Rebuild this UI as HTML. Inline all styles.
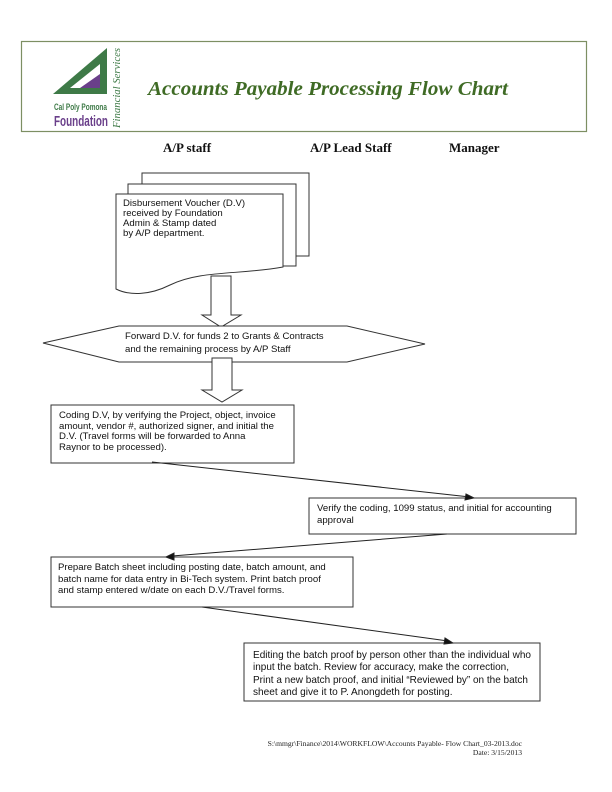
<!DOCTYPE html>
<html><head><meta charset="utf-8"><style>
body{margin:0;background:#fff;}
svg{display:block;}
.t{font-family:"Liberation Sans",Arial,sans-serif;font-size:9.6px;fill:#111;}
.e{font-family:"Liberation Sans",Arial,sans-serif;font-size:10.1px;fill:#111;}
.h{font-family:"Liberation Serif",serif;font-weight:bold;font-size:13px;fill:#111;}
.f{font-family:"Liberation Serif",serif;font-size:7.6px;fill:#222;}
</style></head><body>
<svg width="612" height="792" viewBox="0 0 612 792" xmlns="http://www.w3.org/2000/svg">
<rect x="21.5" y="41.5" width="565" height="90" fill="#fff" stroke="#7d8f63" stroke-width="1.2"/>
<polygon points="107,48 107,94 53,94" fill="#3e7a47"/>
<polygon points="100,64 100,88 70,88" fill="#fff"/>
<polygon points="100,74 100,88 80,88" fill="#6a3f8a"/>
<text x="54" y="110" font-family="Liberation Sans, sans-serif" font-weight="bold" font-size="9" fill="#3e7a47" textLength="53" lengthAdjust="spacingAndGlyphs">Cal Poly Pomona</text>
<text x="54" y="126" font-family="Liberation Sans, sans-serif" font-weight="bold" font-size="15" fill="#6a3f8a" textLength="54" lengthAdjust="spacingAndGlyphs">Foundation</text>
<text transform="translate(120,128) rotate(-90)" font-family="Liberation Serif, serif" font-style="italic" font-size="11" fill="#3e7a47" textLength="80" lengthAdjust="spacingAndGlyphs">Financial Services</text>
<text x="148" y="95" font-family="Liberation Serif, serif" font-style="italic" font-weight="bold" font-size="20" fill="#3f6b25" textLength="360" lengthAdjust="spacingAndGlyphs">Accounts Payable Processing Flow Chart</text>
<text class="h" x="163" y="152">A/P staff</text>
<text class="h" x="310" y="152">A/P Lead Staff</text>
<text class="h" x="449" y="152">Manager</text>
<g fill="#fff" stroke="#333" stroke-width="1">
<polygon points="142,173 309,173 309,256 296,256 296,184 142,184"/>
<polygon points="128,184 296,184 296,266 283,266 283,194 128,194"/>
<path d="M116,194 L283,194 L283,267 C240,275 200,270 170,285 C150,295 130,296 116,289 Z"/>
<polygon points="211,276 231,276 231,315 241,315 221,327 202,315 211,315"/>
<polygon points="43,343 119,326 347,326 425,344 347,362 119,362"/>
<polygon points="212,358 232,358 232,390 242,390 222,402 202,390 212,390"/>
<rect x="51" y="405" width="243" height="58"/>
<rect x="309" y="498" width="267" height="36"/>
<rect x="51" y="557" width="302" height="50"/>
<rect x="244" y="643" width="296" height="58"/>
</g>
<g stroke="#222" stroke-width="1" fill="#111">
<line x1="152" y1="462" x2="470" y2="497"/><polygon points="474,498 466,494 465,500"/>
<line x1="447" y1="534" x2="172" y2="556"/><polygon points="166,557 174,553 174,560"/>
<line x1="202" y1="607" x2="448" y2="641"/><polygon points="453,643 445,638 444,644"/>
</g>
<text class="t" x="123" y="206">Disbursement Voucher (D.V)</text>
<text class="t" x="123" y="216">received by Foundation</text>
<text class="t" x="123" y="226">Admin &amp; Stamp dated</text>
<text class="t" x="123" y="236">by A/P department.</text>
<text class="t" x="125" y="339">Forward D.V. for funds 2 to Grants &amp; Contracts</text>
<text class="t" x="125" y="352">and the remaining process by A/P Staff</text>
<text class="t" x="59" y="418">Coding D.V, by verifying the Project, object, invoice</text>
<text class="t" x="59" y="429">amount, vendor #, authorized signer, and initial the</text>
<text class="t" x="59" y="439">D.V.  (Travel forms will be forwarded to Anna</text>
<text class="t" x="59" y="450">Raynor to be processed).</text>
<text class="t" x="317" y="511">Verify the coding, 1099 status, and initial for accounting</text>
<text class="t" x="317" y="523">approval</text>
<text class="t" x="58" y="570">Prepare Batch sheet including posting date, batch amount, and</text>
<text class="t" x="58" y="582">batch name for data entry in Bi-Tech system. Print batch proof</text>
<text class="t" x="58" y="593">and stamp entered w/date on each D.V./Travel forms.</text>
<text class="e" x="253" y="658" textLength="278" lengthAdjust="spacingAndGlyphs">Editing the batch proof by person other than the individual who</text>
<text class="e" x="253" y="670" textLength="256" lengthAdjust="spacingAndGlyphs">input the batch.  Review for accuracy, make the correction,</text>
<text class="e" x="253" y="683" textLength="275" lengthAdjust="spacingAndGlyphs">Print a new batch proof, and initial “Reviewed by” on the batch</text>
<text class="e" x="253" y="695">sheet and give it to P. Anongdeth for posting.</text>
<text class="f" x="522" y="746" text-anchor="end">S:\mmgr\Finance\2014\WORKFLOW\Accounts Payable- Flow Chart_03-2013.doc</text>
<text class="f" x="522" y="755" text-anchor="end">Date: 3/15/2013</text>
</svg>
</body></html>
